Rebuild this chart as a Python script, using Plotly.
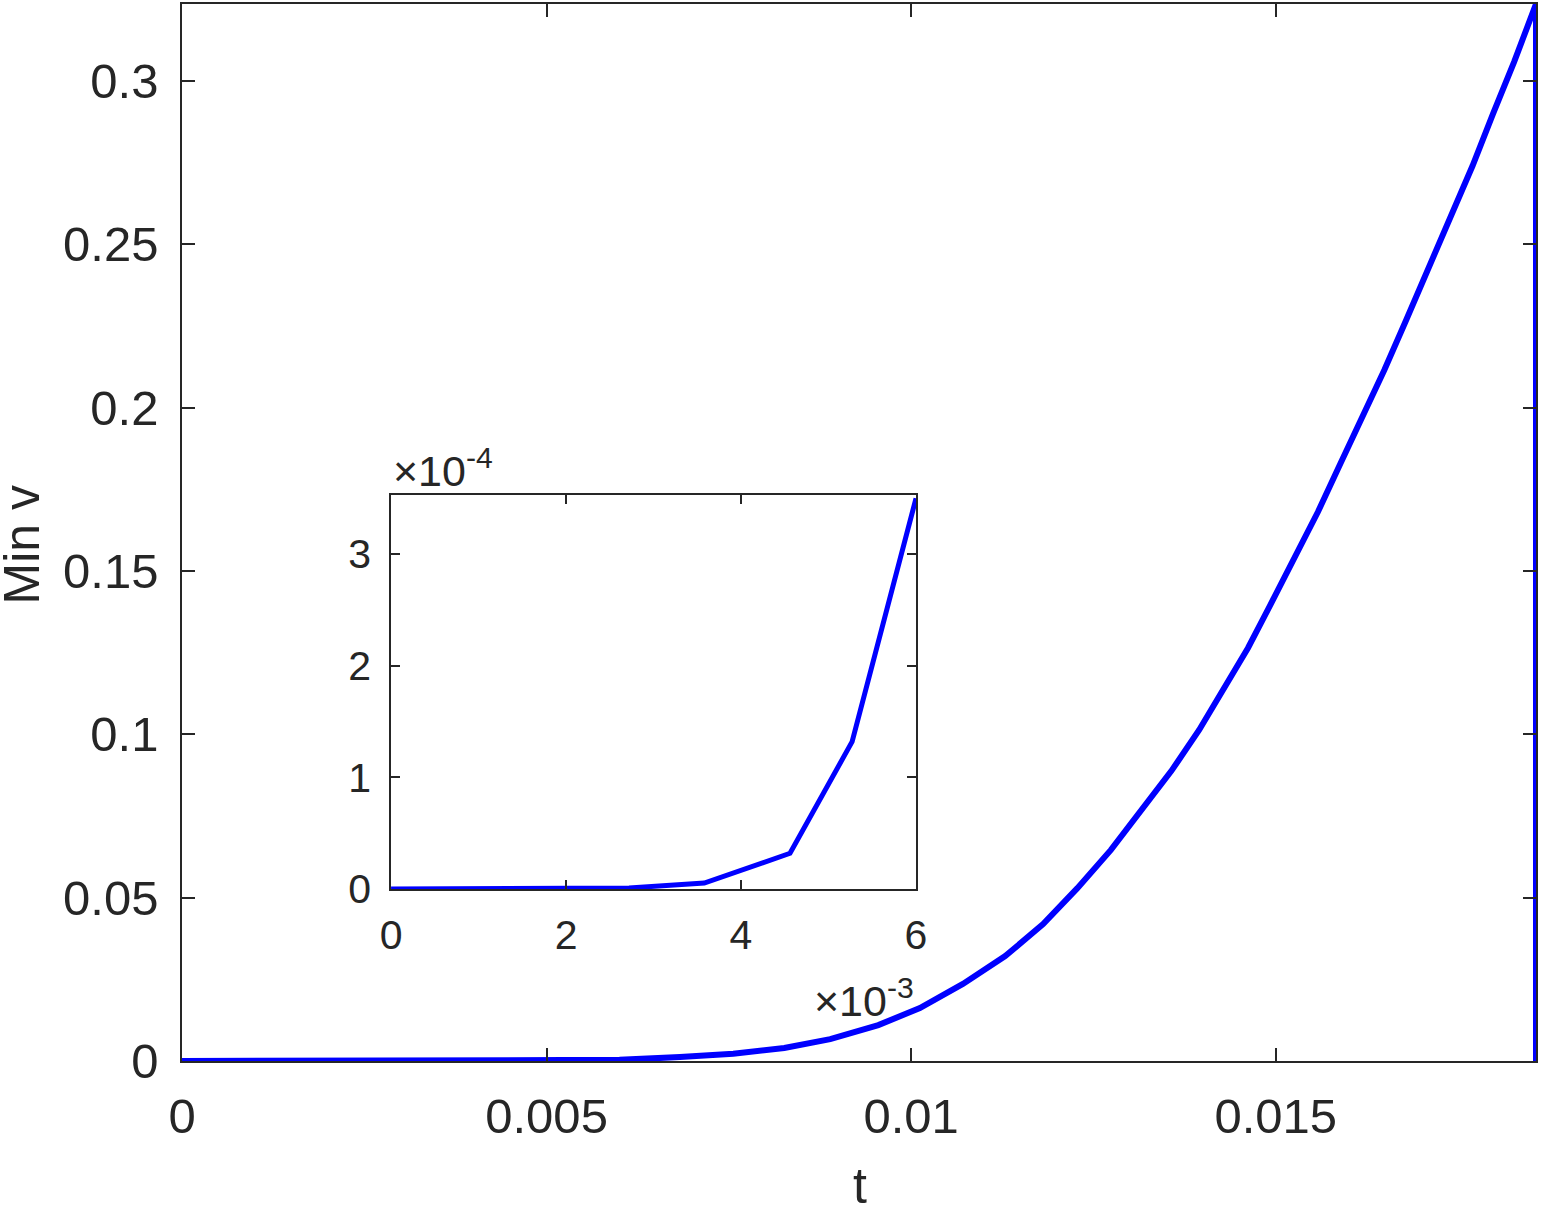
import plotly.graph_objects as go

# ---- data ----
t_vals = [0, 0.00136, 0.00272, 0.00358, 0.00456, 0.00527, 0.00600, 0.00683, 0.00756,
          0.00826, 0.00889, 0.00955, 0.01012, 0.01071, 0.01129, 0.01181, 0.01228,
          0.01274, 0.01314, 0.01357, 0.01395, 0.01428, 0.01462, 0.01492, 0.01525,
          0.01558, 0.01588, 0.01619, 0.01649, 0.01679, 0.01709, 0.01739, 0.01770,
          0.01798, 0.01827, 0.01857, 0.01857]
minv_vals = [0, 0, 0.000001, 0.0000053, 0.000032, 0.000132, 0.00035, 0.0012, 0.0022,
             0.0040, 0.0067, 0.0110, 0.0162, 0.0236, 0.0321, 0.0419, 0.0529,
             0.0646, 0.0762, 0.0888, 0.1013, 0.1136, 0.1264, 0.1393, 0.1534,
             0.1681, 0.1825, 0.1969, 0.2115, 0.2268, 0.2421, 0.2581, 0.2740,
             0.2899, 0.3058, 0.3235, 0]

main_xticks = [0, 0.005, 0.01, 0.015]
main_xticklabels = ["0", "0.005", "0.01", "0.015"]
main_yticks = [0, 0.05, 0.1, 0.15, 0.2, 0.25, 0.3]
main_yticklabels = ["0", "0.05", "0.1", "0.15", "0.2", "0.25", "0.3"]
x_title = "t"
y_title = "Min v"

inset_tmax = 0.006
inset_xscale = 1e3
inset_yscale = 1e4
inset_xticks = [0, 2, 4, 6]
inset_yticks = [0, 1, 2, 3]

# inset subset
inset_t = [t * inset_xscale for t, v in zip(t_vals[:-1], minv_vals[:-1]) if t <= inset_tmax]
inset_v = [v * inset_yscale for t, v in zip(t_vals[:-1], minv_vals[:-1]) if t <= inset_tmax]

TXT = "#262626"
FONT = "Liberation Sans, Arial, Helvetica, sans-serif"
BLUE = "#0000FF"

fig = go.Figure()
fig.add_trace(go.Scatter(x=t_vals, y=minv_vals, mode="lines",
                         line=dict(color=BLUE, width=6), showlegend=False,
                         xaxis="x", yaxis="y"))
fig.add_trace(go.Scatter(x=inset_t, y=inset_v, mode="lines",
                         line=dict(color=BLUE, width=5), showlegend=False,
                         xaxis="x2", yaxis="y2"))

axis_common = dict(showgrid=False, zeroline=False, showline=True, linecolor=TXT,
                   linewidth=1.6, mirror="ticks", ticks="inside", tickcolor=TXT,
                   tickwidth=1.6, automargin=False)

fig.update_layout(
    width=1541, height=1208, autosize=False,
    margin=dict(l=182, r=5, t=4, b=147, autoexpand=False),
    paper_bgcolor="white", plot_bgcolor="white",
    font=dict(family=FONT, color=TXT),
    xaxis=dict(**axis_common, domain=[0, 1], range=[0, 0.01857],
               tickvals=main_xticks, ticktext=main_xticklabels, ticklen=13,
               tickfont=dict(size=49), ticklabelstandoff=11),
    yaxis=dict(**axis_common, domain=[0, 1], range=[0, 0.3235],
               tickvals=main_yticks, ticktext=main_yticklabels, ticklen=13,
               tickfont=dict(size=49), ticklabelstandoff=12),
    xaxis2=dict(**axis_common, domain=[0.1544, 0.5421], range=[0, 6],
                anchor="y2", tickvals=inset_xticks, ticklen=9,
                tickfont=dict(size=41), ticklabelstandoff=9),
    yaxis2=dict(**axis_common, domain=[0.1627, 0.5355], range=[0, 3.53],
                anchor="x2", tickvals=inset_yticks, ticklen=9,
                tickfont=dict(size=41), ticklabelstandoff=10),
)

# axis titles
fig.add_annotation(xref="paper", yref="paper", x=0.5007, y=-0.118,
                   xanchor="center", yanchor="middle", showarrow=False,
                   text=x_title, font=dict(size=50, color=TXT, family=FONT))
fig.add_annotation(xref="paper", yref="paper", x=-0.118, y=0.488,
                   xanchor="center", yanchor="middle", showarrow=False, textangle=-90,
                   text=y_title, font=dict(size=50, color=TXT, family=FONT))

# exponent labels of the inset
fig.add_annotation(xref="x2 domain", yref="y2 domain", x=0.0, y=1.0,
                   xanchor="left", yanchor="bottom", yshift=-2, showarrow=False,
                   text="×10<sup>-4</sup>", font=dict(size=43, color=TXT, family=FONT))
fig.add_annotation(xref="x2 domain", yref="y2 domain", x=1.0, y=0.0,
                   xanchor="right", yanchor="top", yshift=-80, showarrow=False,
                   text="×10<sup>-3</sup>", font=dict(size=43, color=TXT, family=FONT))

fig.write_html("out.html")
